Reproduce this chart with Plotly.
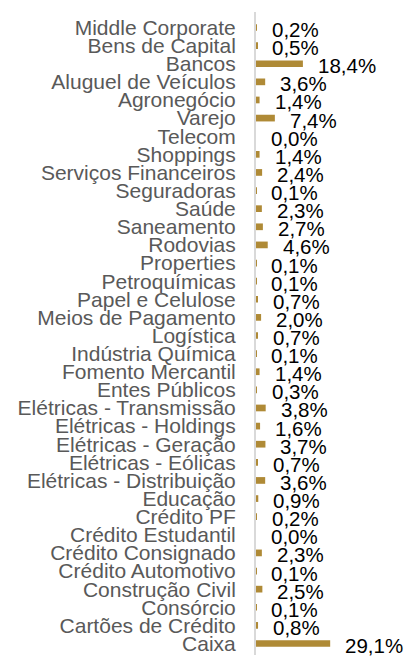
import plotly.graph_objects as go

# Sector allocation (% of portfolio), listed top to bottom
setores = [
    "Middle Corporate", "Bens de Capital", "Bancos", "Aluguel de Veículos",
    "Agronegócio", "Varejo", "Telecom", "Shoppings", "Serviços Financeiros",
    "Seguradoras", "Saúde", "Saneamento", "Rodovias", "Properties",
    "Petroquímicas", "Papel e Celulose", "Meios de Pagamento", "Logística",
    "Indústria Química", "Fomento Mercantil", "Entes Públicos",
    "Elétricas - Transmissão", "Elétricas - Holdings", "Elétricas - Geração",
    "Elétricas - Eólicas", "Elétricas - Distribuição", "Educação",
    "Crédito PF", "Crédito Estudantil", "Crédito Consignado",
    "Crédito Automotivo", "Construção Civil", "Consórcio",
    "Cartões de Crédito", "Caixa",
]
pesos = [
    0.2, 0.5, 18.4, 3.6, 1.4, 7.4, 0.0, 1.4, 2.4, 0.1, 2.3, 2.7, 4.6, 0.1,
    0.1, 0.7, 2.0, 0.7, 0.1, 1.4, 0.3, 3.8, 1.6, 3.7, 0.7, 3.6, 0.9, 0.2,
    0.0, 2.3, 0.1, 2.5, 0.1, 0.8, 29.1,
]
rotulos = [f"{v:.1f}%".replace(".", ",") for v in pesos]

DOURADO = "#AF8A36"
FONTE = "Liberation Sans, Arial, sans-serif"

fig = go.Figure(
    go.Bar(
        x=pesos,
        y=setores,
        orientation="h",
        marker=dict(color=DOURADO, line=dict(width=0)),
        width=0.37,
        hoverinfo="skip",
    )
)

# Value labels just past each bar end
for s, v, t in zip(setores, pesos, rotulos):
    fig.add_annotation(
        x=v, y=s, text=t, showarrow=False,
        xanchor="left", yanchor="middle", xshift=13, yshift=-2,
        font=dict(family=FONTE, size=20.5, color="#000000"),
    )

fig.update_layout(
    width=409, height=657,
    margin=dict(l=256, r=23, t=12, b=2, autoexpand=False),
    paper_bgcolor="white", plot_bgcolor="white",
    showlegend=False,
    xaxis=dict(range=[0, 51], visible=False, fixedrange=True, automargin=False),
    yaxis=dict(
        categoryorder="array", categoryarray=setores,
        autorange="reversed", automargin=False,
        tickmode="array", tickvals=setores, ticktext=setores,
        showgrid=False, zeroline=False,
        showline=True, linecolor="#D9D9D9", linewidth=2,
        ticks="", ticklabelstandoff=14,
        tickfont=dict(family=FONTE, size=21, color="#595959"),
        fixedrange=True,
    ),
)

fig.write_html("out.html")
